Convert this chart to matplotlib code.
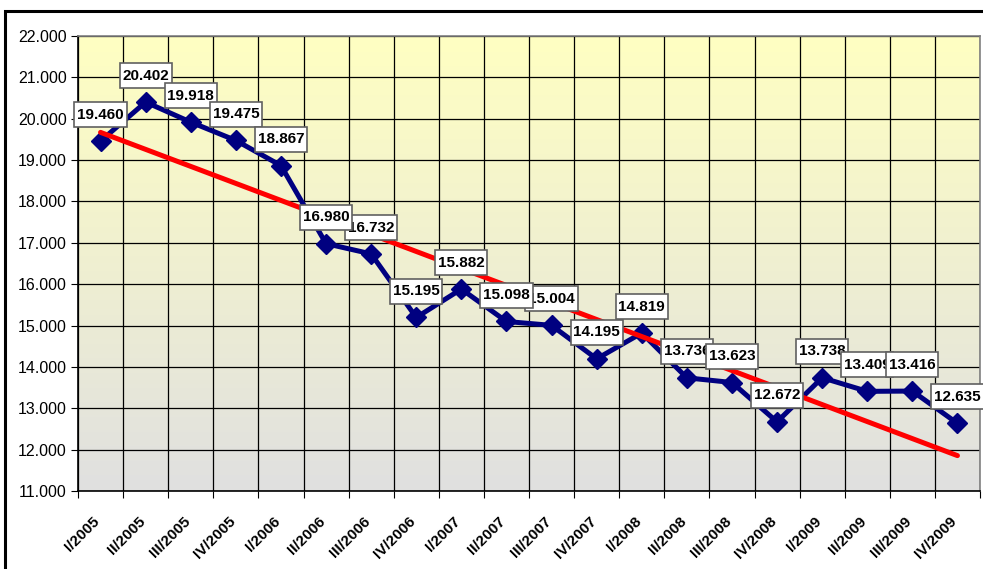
import numpy as np
import matplotlib
matplotlib.use("Agg")
import matplotlib.pyplot as plt
from matplotlib.patches import Rectangle
from matplotlib.path import Path
from matplotlib.ticker import FuncFormatter

quarters = ["I/2005", "II/2005", "III/2005", "IV/2005",
            "I/2006", "II/2006", "III/2006", "IV/2006",
            "I/2007", "II/2007", "III/2007", "IV/2007",
            "I/2008", "II/2008", "III/2008", "IV/2008",
            "I/2009", "II/2009", "III/2009", "IV/2009"]
values = [19.460, 20.402, 19.918, 19.475,
          18.867, 16.980, 16.732, 15.195,
          15.882, 15.098, 15.004, 14.195,
          14.819, 13.736, 13.623, 12.672,
          13.738, 13.409, 13.416, 12.635]

plt.rcParams['font.family'] = ['Liberation Sans', 'DejaVu Sans']


def label_box(x0, y0, width, height, mutation_size):
    # Excel style data label box: narrow side padding, tall top/bottom
    px = 0.18 * mutation_size
    py = 0.36 * mutation_size
    x0, y0 = x0 - px, y0 - py
    x1, y1 = x0 + width + 2 * px, y0 + height + 2 * py
    return Path([(x0, y0), (x1, y0), (x1, y1), (x0, y1), (x0, y0)],
                closed=True)


fig = plt.figure(figsize=(9.83, 5.69), dpi=100)
ax = fig.add_axes([78 / 983, 78 / 569, 902 / 983, 455 / 569])

# outer chart frame (only top and left visible in the reference)
fig.patches.append(Rectangle((5 / 983, -0.1), 1.2, (569 - 11) / 569 + 0.1,
                             transform=fig.transFigure, fill=False,
                             edgecolor="black", linewidth=2.2))

n = len(values)
x = np.arange(n) + 0.5

# gradient background: light yellow at top to light grey at bottom
top = np.array([255, 255, 194]) / 255
bottom = np.array([224, 224, 224]) / 255
t = np.linspace(0, 1, 256)[:, None]
grad = (top * (1 - t) + bottom * t)[:, None, :]
ax.imshow(grad, extent=[0, n, 11, 22], aspect="auto", zorder=0)

ax.set_xlim(0, n)
ax.set_ylim(11, 22)

ax.set_yticks(np.arange(11, 23, 1))
ax.yaxis.set_major_formatter(FuncFormatter(lambda v, p: f"{v:.3f}"))
ax.set_xticks(np.arange(0, n + 1))
ax.set_xticklabels([])
ax.set_xticks(x, minor=True)
ax.set_xticklabels(quarters, minor=True, rotation=45, ha="right",
                   va="baseline", rotation_mode="anchor", fontsize=11,
                   fontweight="bold")
ax.tick_params(axis="x", which="minor", length=0, pad=22)
ax.tick_params(axis="x", which="major", length=5, color="black")
ax.tick_params(axis="y", length=5, labelsize=11.5, color="black", pad=3)

ax.grid(True, which="major", color="black", linewidth=0.9, zorder=1)
ax.set_axisbelow(True)
for s in ax.spines.values():
    s.set_color("#808080")
    s.set_linewidth(1.2)
ax.spines["left"].set_color("black")
ax.spines["bottom"].set_color("black")

ax.plot(x, values, color="#000080", linewidth=3.6, marker="D",
        markersize=10, zorder=3)

coef = np.polyfit(x, values, 1)
ax.plot(x[[0, -1]], np.polyval(coef, x[[0, -1]]), color="#FF0000",
        linewidth=3.6, solid_capstyle="round", zorder=4)

# labels that sit above their right-hand neighbour in the reference
raised = {5, 9}
for i, (xi, v) in enumerate(zip(x, values)):
    z = 10 + i + (1.5 if i in raised else 0)
    ax.annotate(f"{v:.3f}", (xi, v), xytext=(0, 19),
                textcoords="offset points", ha="center", va="center",
                fontsize=11, fontweight="bold", zorder=z,
                bbox=dict(boxstyle=label_box, facecolor="white",
                          edgecolor="#606060", linewidth=1.2))

fig.savefig("out.png", dpi=100)
